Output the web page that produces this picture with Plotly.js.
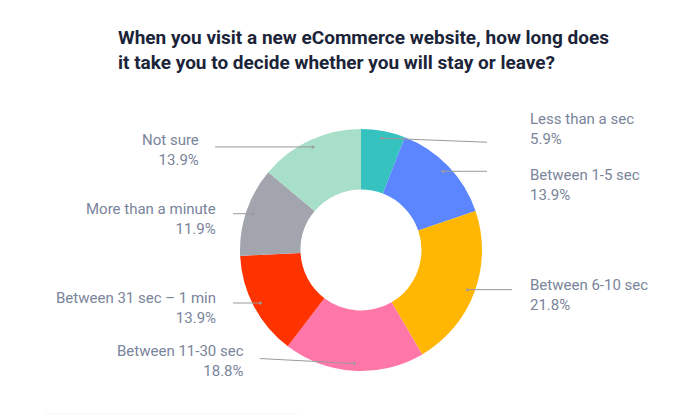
<!DOCTYPE html>
<html>
<head>
<meta charset="utf-8">
<script src="https://cdn.plot.ly/plotly-3.0.1.min.js"></script>
<style>
  html, body { margin: 0; padding: 0; background: #fff; }
  #myDiv { width: 678px; height: 418px; }
</style>
</head>
<body>
<div id="myDiv"></div>
<script>
const labels = ['Less than a sec', 'Between 1-5 sec', 'Between 6-10 sec', 'Between 11-30 sec',
                'Between 31 sec \u2013 1 min', 'More than a minute', 'Not sure'];
const values = [5.9, 13.9, 21.8, 18.8, 13.9, 11.9, 13.9];
const colors = ['#36C2BE', '#5B86FF', '#FFB703', '#FF77A8', '#FF3300', '#A3A5AE', '#A8DFC8'];

// label placement: [text x, anchor, text dy from dot, line end x, line end dy]
const place = [
  [528, 'left', -9, 487, 4],
  [528, 'left', 14, 487, 0],
  [528, 'left', 5, 512, 0],
  [246, 'right', -3, 260, -5],
  [218, 'right', 5, 233, 0],
  [218, 'right', 5, 233, 0],
  [201, 'right', 3, 215, 0]
];

const W = 678, H = 418;
const cx = 361, cy = 250, R = 121;
const px = x => x / W;
const py = y => 1 - y / H;

const total = values.reduce((a, b) => a + b, 0);
let cum = 0;
const shapes = [];
const annotations = [];
values.forEach((v, i) => {
  const f = (cum + v / 2) / total;
  cum += v;
  const a = 2 * Math.PI * f;
  const dx = cx + 0.94 * R * Math.sin(a);
  const dy = cy - 0.94 * R * Math.cos(a);
  const p = place[i];
  shapes.push({type: 'line', xref: 'paper', yref: 'paper',
    x0: px(dx), y0: py(dy), x1: px(p[3]), y1: py(dy + p[4]),
    line: {color: '#9a9a9a', width: 1}});
  shapes.push({type: 'circle', xref: 'paper', yref: 'paper',
    x0: px(dx - 1.5), y0: py(dy - 1.5), x1: px(dx + 1.5), y1: py(dy + 1.5),
    fillcolor: '#9a9a9a', line: {width: 0}});
  annotations.push({xref: 'paper', yref: 'paper', x: px(p[0]), y: py(dy + p[2]),
    xanchor: p[1], yanchor: 'middle', align: p[1], showarrow: false,
    text: labels[i] + '<br>' + v.toFixed(1) + '%',
    font: {family: 'Roboto', size: 15, color: '#7A849A'}});
});

// faint rule at the bottom
shapes.push({type: 'line', xref: 'paper', yref: 'paper',
  x0: px(46), y0: py(414), x1: px(297), y1: py(414),
  line: {color: '#f2f2f2', width: 1}});

annotations.push({xref: 'paper', yref: 'paper', x: px(116), y: py(49.5),
  xanchor: 'left', yanchor: 'middle', align: 'left', showarrow: false,
  text: 'When you visit a new eCommerce website, how long does<br>it take you to decide whether you will stay or leave?',
  font: {family: 'Roboto', size: 19, weight: 'bold', color: '#1B2438'}});

const data = [{
  type: 'pie',
  labels: labels,
  values: values,
  hole: 0.5,
  sort: false,
  direction: 'clockwise',
  rotation: 0,
  textinfo: 'none',
  marker: {colors: colors, line: {width: 0}},
  domain: {x: [px(cx - R), px(cx + R)], y: [py(cy + R), py(cy - R)]},
  showlegend: false
}];

const layout = {
  width: W, height: H,
  margin: {l: 0, r: 0, t: 0, b: 0},
  paper_bgcolor: '#fff',
  shapes: shapes,
  annotations: annotations
};

Plotly.newPlot('myDiv', data, layout, {displayModeBar: false});
</script>
</body>
</html>
